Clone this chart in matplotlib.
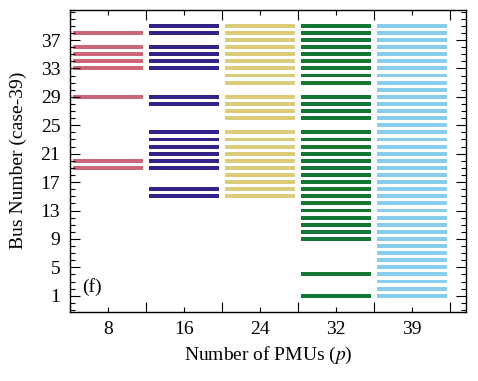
import numpy as np
from matplotlib import pyplot as plt

# number of PMUs placed, and the buses chosen for each case
pmu_counts = ["8", "16", "24", "32", "39"]
buses_8 = [19, 20, 29, 33, 34, 35, 36, 38]
buses_16 = [15, 16, 19, 20, 21, 22, 23, 24, 28, 29, 33, 34, 35, 36, 38, 39]
buses_24 = [15, 16, 17, 18, 19, 20, 21, 22, 23, 24, 26, 27, 28, 29,
            31, 32, 33, 34, 35, 36, 37, 38, 39]
buses_32 = [1, 4, 9, 10, 11, 12, 13, 14, 15, 16, 17, 18, 19, 20, 21, 22,
            23, 24, 26, 27, 28, 29, 31, 32, 33, 34, 35, 36, 37, 38, 39]
buses_39 = list(range(1, 40))
all_buses = [buses_8, buses_16, buses_24, buses_32, buses_39]
colors = ["#CC6677", "#332288", "#DDCC77", "#117733", "#88CCEE"]
y_ticks = list(range(1, 40, 4))

plt.rcParams["font.family"] = ["Liberation Serif", "DejaVu Serif"]
plt.rcParams["mathtext.fontset"] = "stix"

fig = plt.figure(figsize=(4.78, 3.81), dpi=100)
ax = fig.add_axes([0.1464, 0.182, 0.829, 0.792])

for i, (buses, c) in enumerate(zip(all_buses, colors)):
    ax.barh(buses, 0.92, left=i + 0.04, height=0.55, color=c)

ax.set_xlim(0, 5.21)
ax.set_ylim(-1.24, 41.24)
ax.set_xticks(np.arange(0, 6))
ax.set_xticklabels([])
ax.set_xticks(np.arange(len(pmu_counts)) + 0.5, minor=True)
ax.set_xticklabels(pmu_counts, minor=True)
ax.set_yticks(y_ticks)
ax.set_yticks(range(-1, 42), minor=True)

ax.tick_params(which="both", direction="in", top=True, right=True,
               labelsize=14, width=0.8)
ax.tick_params(which="major", length=7)
ax.tick_params(which="minor", length=3.5)
ax.tick_params(axis="x", which="minor", pad=7)
ax.tick_params(axis="y", which="major", pad=7)
for s in ax.spines.values():
    s.set_linewidth(1.0)

ax.set_xlabel("Number of PMUs ($p$)", fontsize=14, labelpad=5)
ax.set_ylabel("Bus Number (case-39)", fontsize=14, labelpad=10)
ax.text(0.03, 0.08, "(f)", transform=ax.transAxes, fontsize=14,
        va="center")

fig.savefig("out.png", dpi=100)
